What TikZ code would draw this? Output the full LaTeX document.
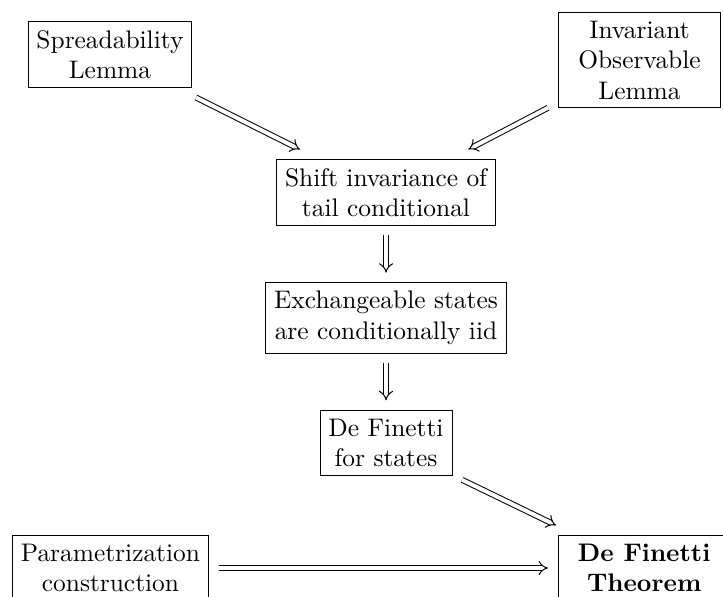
\documentclass[tikz,border=0pt]{standalone}
\usetikzlibrary{arrows.meta}
\begin{document}
\begin{tikzpicture}[box/.style={draw, align=center, outer sep=4pt},
                    imp/.style={double, double equal sign distance, -{Implies}}]
   \useasboundingbox (0,0) rectangle (10,8.257);

   % Lemmas
   \node[box] (spread) at (1.521, 7.503) {Spreadability\\Lemma};
   \node[box, minimum width=2.25cm] (invar) at (8.845, 7.427) {Invariant\\Observable\\Lemma};

   % Middle column
   \node[box] (shift) at (5.339, 5.595) {Shift invariance of\\tail conditional};
   \node[box] (exch) at (5.339, 3.859) {Exchangeable states\\are conditionally iid};
   \node[box] (dfstates) at (5.339, 2.130) {De Finetti\\for states};

   % Bottom row
   \node[box] (param) at (1.528, 0.401) {Parametrization\\construction};
   \node[box, minimum width=2.38cm, font=\bfseries] (thm) at (8.91, 0.401) {De Finetti\\Theorem};

   % Implications
   \draw[imp] (spread) -- (shift);
   \draw[imp] (invar) -- (shift);
   \draw[imp] (shift) -- (exch);
   \draw[imp] (exch) -- (dfstates);
   \draw[imp] (dfstates) -- (thm);
   \draw[imp] (param) -- (thm);

\end{tikzpicture}
\end{document}
